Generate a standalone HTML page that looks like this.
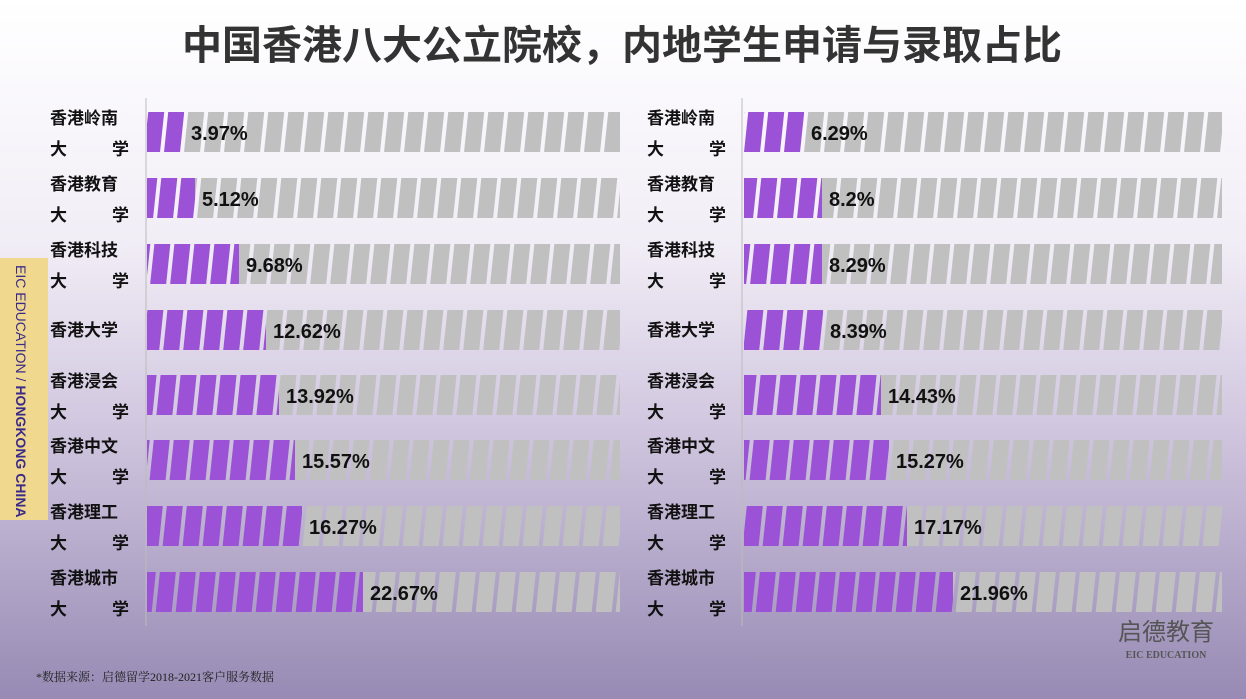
<!DOCTYPE html>
<html><head><meta charset="utf-8"><style>
body{margin:0;width:1246px;height:699px;overflow:hidden;}
svg{display:block}
</style></head><body>
<svg width="1246" height="699" xmlns="http://www.w3.org/2000/svg" font-family="'Liberation Sans','Noto Sans CJK SC',sans-serif">
<defs>
<linearGradient id="bg" x1="0" y1="0" x2="0" y2="1">
<stop offset="0" stop-color="#ffffff"/><stop offset="0.35" stop-color="#f1edf6"/><stop offset="0.6" stop-color="#d2c8e0"/><stop offset="1" stop-color="#978ab4"/>
</linearGradient>
<pattern id="st" width="20" height="40" patternUnits="userSpaceOnUse" patternTransform="skewX(-6)">
<rect x="0" y="0" width="16" height="40" fill="#fff"/>
</pattern>
<mask id="mL" maskUnits="userSpaceOnUse"><rect x="0" y="0" width="1246" height="699" fill="url(#st)"/></mask>
</defs>
<rect width="1246" height="699" fill="url(#bg)"/>
<text x="622" y="59" text-anchor="middle" font-size="40" font-weight="bold" fill="#333">中国香港八大公立院校，内地学生申请与录取占比</text>
<rect x="0" y="258" width="48" height="262" fill="#f0d88e"/>
<text transform="translate(16,265) rotate(90)" font-size="14" fill="#3a2a8a">EIC EDUCATION  /  <tspan font-weight="bold">HONGKONG CHINA</tspan></text>
<line x1="146" y1="98" x2="146" y2="626" stroke="#bbb"/>
<line x1="742" y1="98" x2="742" y2="626" stroke="#bbb"/>
<g id="bars" mask="url(#mL)">
<rect x="147" y="112" width="473" height="40" fill="#c0c0c0"/><rect x="147" y="178" width="473" height="40" fill="#c0c0c0"/><rect x="147" y="244" width="473" height="40" fill="#c0c0c0"/><rect x="147" y="310" width="473" height="40" fill="#c0c0c0"/><rect x="147" y="375" width="473" height="40" fill="#c0c0c0"/><rect x="147" y="440" width="473" height="40" fill="#c0c0c0"/><rect x="147" y="506" width="473" height="40" fill="#c0c0c0"/><rect x="147" y="572" width="473" height="40" fill="#c0c0c0"/>
<rect x="744" y="112" width="478" height="40" fill="#c0c0c0"/><rect x="744" y="178" width="478" height="40" fill="#c0c0c0"/><rect x="744" y="244" width="478" height="40" fill="#c0c0c0"/><rect x="744" y="310" width="478" height="40" fill="#c0c0c0"/><rect x="744" y="375" width="478" height="40" fill="#c0c0c0"/><rect x="744" y="440" width="478" height="40" fill="#c0c0c0"/><rect x="744" y="506" width="478" height="40" fill="#c0c0c0"/><rect x="744" y="572" width="478" height="40" fill="#c0c0c0"/>
<g fill="#9b52d6">
<rect x="147" y="112" width="37" height="40"/><rect x="147" y="178" width="48" height="40"/><rect x="147" y="244" width="92" height="40"/><rect x="147" y="310" width="119" height="40"/><rect x="147" y="375" width="132" height="40"/><rect x="147" y="440" width="148" height="40"/><rect x="147" y="506" width="155" height="40"/><rect x="147" y="572" width="216" height="40"/>
<rect x="744" y="112" width="60" height="40"/><rect x="744" y="178" width="78" height="40"/><rect x="744" y="244" width="78" height="40"/><rect x="744" y="310" width="79" height="40"/><rect x="744" y="375" width="137" height="40"/><rect x="744" y="440" width="145" height="40"/><rect x="744" y="506" width="163" height="40"/><rect x="744" y="572" width="209" height="40"/>
</g></g>
<g font-size="20" font-weight="bold" fill="#111">
<text x="191" y="140">3.97%</text><text x="202" y="206">5.12%</text><text x="246" y="272">9.68%</text><text x="273" y="338">12.62%</text><text x="286" y="403">13.92%</text><text x="302" y="468">15.57%</text><text x="309" y="534">16.27%</text><text x="370" y="600">22.67%</text>
<text x="811" y="140">6.29%</text><text x="829" y="206">8.2%</text><text x="829" y="272">8.29%</text><text x="830" y="338">8.39%</text><text x="888" y="403">14.43%</text><text x="896" y="468">15.27%</text><text x="914" y="534">17.17%</text><text x="960" y="600">21.96%</text>
</g>
<g font-size="17" font-weight="bold" fill="#111" font-family="'Noto Sans CJK SC',sans-serif">
<text x="50" y="124">香港岭南</text><text x="50" y="155">大</text><text x="112" y="155">学</text>
<text x="50" y="190">香港教育</text><text x="50" y="221">大</text><text x="112" y="221">学</text>
<text x="50" y="256">香港科技</text><text x="50" y="287">大</text><text x="112" y="287">学</text>
<text x="50" y="336">香港大学</text>
<text x="50" y="387">香港浸会</text><text x="50" y="418">大</text><text x="112" y="418">学</text>
<text x="50" y="452">香港中文</text><text x="50" y="483">大</text><text x="112" y="483">学</text>
<text x="50" y="518">香港理工</text><text x="50" y="549">大</text><text x="112" y="549">学</text>
<text x="50" y="584">香港城市</text><text x="50" y="615">大</text><text x="112" y="615">学</text>
<text x="647" y="124">香港岭南</text><text x="647" y="155">大</text><text x="709" y="155">学</text>
<text x="647" y="190">香港教育</text><text x="647" y="221">大</text><text x="709" y="221">学</text>
<text x="647" y="256">香港科技</text><text x="647" y="287">大</text><text x="709" y="287">学</text>
<text x="647" y="336">香港大学</text>
<text x="647" y="387">香港浸会</text><text x="647" y="418">大</text><text x="709" y="418">学</text>
<text x="647" y="452">香港中文</text><text x="647" y="483">大</text><text x="709" y="483">学</text>
<text x="647" y="518">香港理工</text><text x="647" y="549">大</text><text x="709" y="549">学</text>
<text x="647" y="584">香港城市</text><text x="647" y="615">大</text><text x="709" y="615">学</text>
</g>
<text x="1166" y="640" text-anchor="middle" font-size="24" fill="#555" font-family="'Noto Sans CJK SC',sans-serif">启德教育</text>
<text x="1166" y="658" text-anchor="middle" font-size="10" font-weight="bold" fill="#555" font-family="'Liberation Serif',serif">EIC EDUCATION</text>
<text x="36" y="681" font-size="12" fill="#222" font-family="'Liberation Serif','Noto Serif CJK SC',serif">*数据来源：启德留学2018-2021客户服务数据</text>
</svg>
</body></html>
